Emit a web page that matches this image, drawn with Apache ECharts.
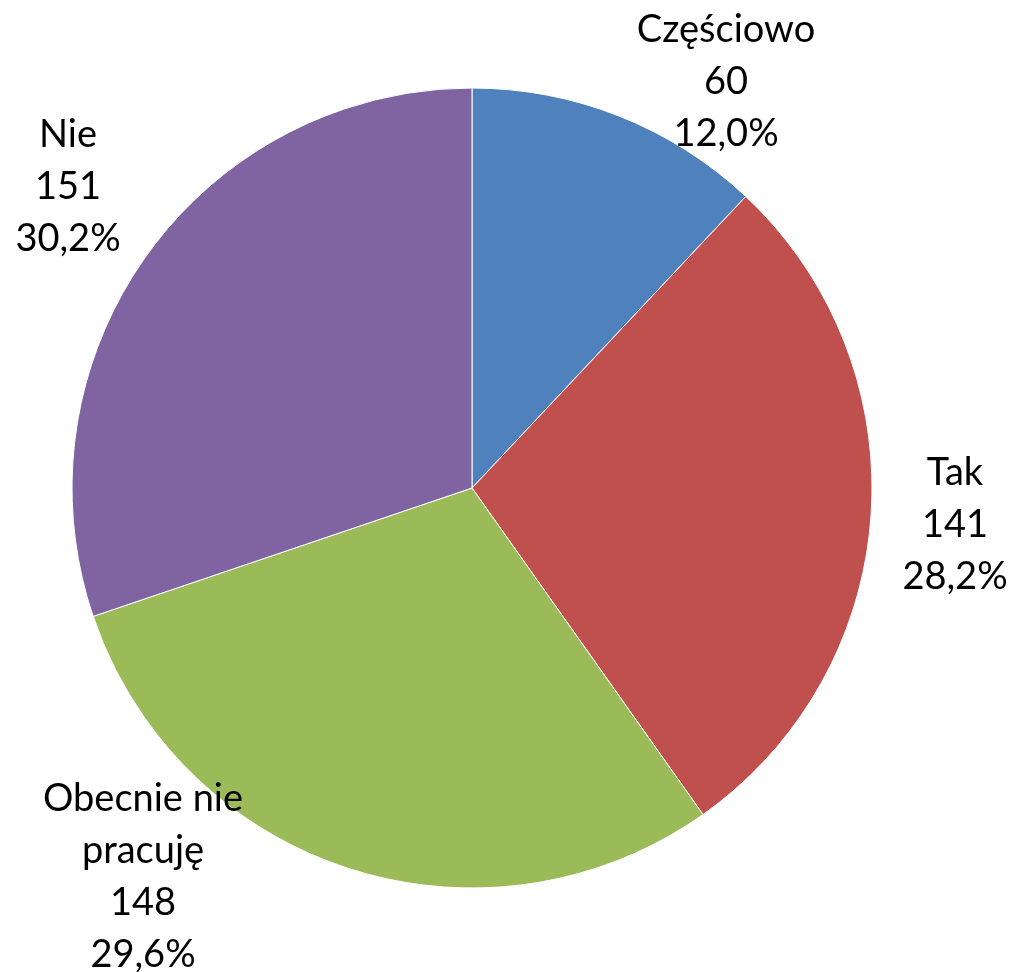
<!DOCTYPE html>
<html>
<head>
<meta charset="utf-8">
<script src="https://cdn.jsdelivr.net/npm/echarts@6/dist/echarts.min.js"></script>
<style>html,body{margin:0;padding:0;background:#fff;}#c{width:1012px;height:972px;}</style>
</head>
<body>
<div id="c"></div>
<script>
const categories = ['Częściowo', 'Tak', 'Obecnie nie\npracuję', 'Nie'];
const values = [60, 141, 148, 151];
const percentLabels = ['12,0%', '28,2%', '29,6%', '30,2%'];
const colors = ['#4F81BD', '#C0504D', '#9BBB59', '#8064A2'];
// label block centres (layout only)
const labelPos = [[726, 82], [955, 525], [143, 877], [68, 187]];

const chart = echarts.init(document.getElementById('c'));
chart.setOption({
  animation: false,
  series: [{
    type: 'pie',
    center: [472, 488],
    radius: [0, 400],
    startAngle: 90,
    clockwise: true,
    data: categories.map((c, i) => ({ name: c, value: values[i], itemStyle: { color: colors[i] } })),
    itemStyle: { borderColor: '#ffffff', borderWidth: 1 },
    label: {
      show: true,
      position: 'outside',
      formatter: p => p.name + '\n' + p.value + '\n' + percentLabels[p.dataIndex],
      fontFamily: 'Lato',
      fontSize: 38,
      lineHeight: 52,
      color: '#000',
      align: 'center',
      overflow: 'none',
      bleedMargin: 0
    },
    labelLine: { show: false },
    labelLayout: p => ({
      x: labelPos[p.dataIndex][0],
      y: labelPos[p.dataIndex][1],
      align: 'center',
      verticalAlign: 'middle',
      width: 400
    })
  }]
});
</script>
</body>
</html>
